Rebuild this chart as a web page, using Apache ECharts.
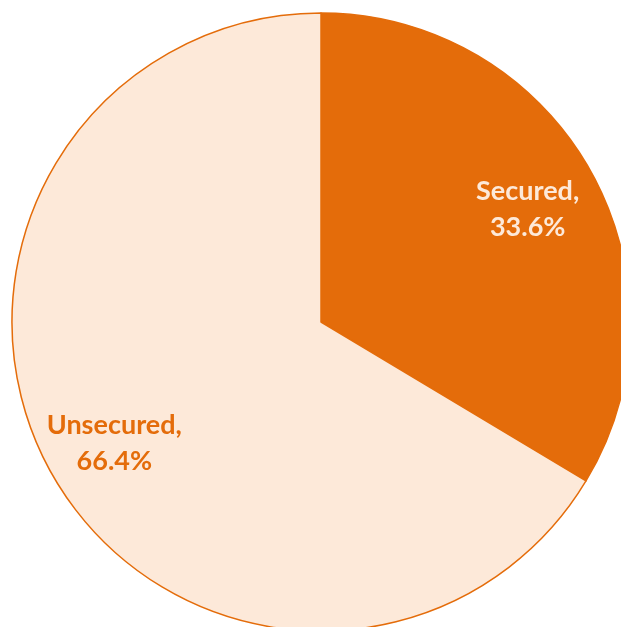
<!DOCTYPE html>
<html lang="en">

<head>
    <meta charset="UTF-8">
    <title>Secured vs Unsecured</title>
    <script src="https://cdn.jsdelivr.net/npm/echarts@6/dist/echarts.min.js"></script>
    <style>
        html, body { margin: 0; padding: 0; background: #fff; }
        #main { width: 621px; height: 627px; }
    </style>
</head>

<body>
    <div id="main"></div>
</body>
<script>
    var categories = ["Secured", "Unsecured"];
    var shares = [33.6, 66.4];
    var sliceColors = ["#E46C0A", "#FDE9D9"];
    var labelColors = ["#FDE9D9", "#E46C0A"];

    var chart = echarts.init(document.getElementById('main'));

    var pieData = categories.map(function (name, i) {
        return { name: name, value: shares[i], itemStyle: { color: sliceColors[i] } };
    });

    // transparent ring only used to put the labels further out than "inside" would
    var labelData = categories.map(function (name, i) {
        return {
            name: name, value: shares[i],
            itemStyle: { color: 'rgba(0,0,0,0)' },
            label: { color: labelColors[i] }
        };
    });

    var option = {
        animation: false,
        series: [
            {
                type: 'pie',
                center: [321, 322],
                radius: 309,
                startAngle: 90,
                clockwise: true,
                silent: true,
                label: { show: false },
                labelLine: { show: false },
                itemStyle: { borderColor: '#E46C0A', borderWidth: 1.5 },
                data: pieData
            },
            {
                type: 'pie',
                center: [321, 322],
                radius: [160, 309],
                startAngle: 90,
                clockwise: true,
                silent: true,
                labelLine: { show: false },
                label: {
                    show: true,
                    position: 'inside',
                    formatter: '{b},\n{c}%',
                    fontFamily: 'Lato',
                    fontWeight: 'bold',
                    fontSize: 27,
                    lineHeight: 36,
                    offset: [0, 4],
                    align: 'center'
                },
                data: labelData
            }
        ]
    };

    chart.setOption(option);
</script>

</html>
